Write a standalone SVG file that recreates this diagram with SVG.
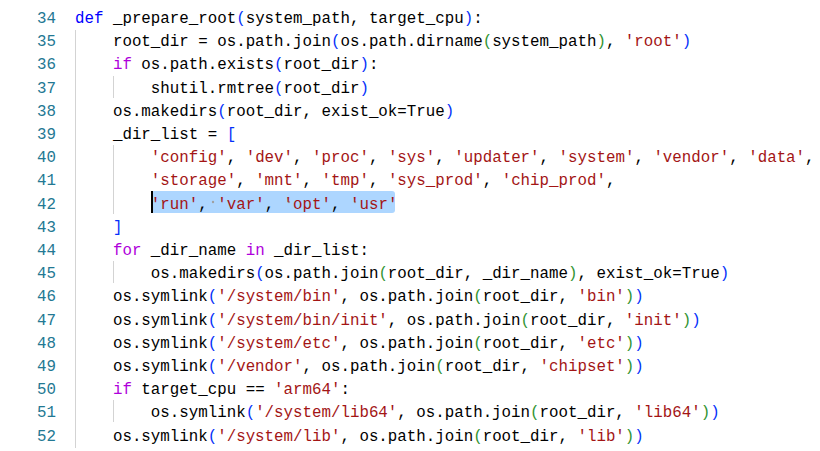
<svg xmlns="http://www.w3.org/2000/svg" width="820" height="451" viewBox="0 0 820 451">
<style>
text{font-family:"Liberation Mono",monospace;font-size:15.8px;fill:#000;white-space:pre}
.ln{fill:#237893;text-anchor:end}
.k{fill:#0000ff}.c{fill:#af00db}.s{fill:#a31515}.b1{fill:#0431fa}.b2{fill:#319331}
.g{stroke:#d3d3d3;stroke-width:1}
</style>
<rect width="820" height="451" fill="#fff"/>
<g id="guides">
<line class="g" x1="75.5" y1="30" x2="75.5" y2="448"/>
<line class="g" x1="113.5" y1="76" x2="113.5" y2="98"/>
<line class="g" x1="113.5" y1="145" x2="113.5" y2="214"/>
<line class="g" x1="113.5" y1="261" x2="113.5" y2="283"/>
<line class="g" x1="113.5" y1="400" x2="113.5" y2="422"/>
</g>
<g id="selection">
<rect x="151" y="191" width="244" height="22" rx="3" fill="#add6ff"/>
<rect x="151" y="191" width="2" height="22" fill="#000"/>
<g fill="#a0a0a0"><circle cx="213" cy="202" r="1.2"/><circle cx="289" cy="202" r="1.2"/><circle cx="355" cy="202" r="1.2"/></g>
</g>
<g id="numbers">
<text class="ln" x="56" y="23">34</text><text class="ln" x="56" y="46.2">35</text><text class="ln" x="56" y="69.4">36</text><text class="ln" x="56" y="92.6">37</text><text class="ln" x="56" y="115.8">38</text><text class="ln" x="56" y="139">39</text><text class="ln" x="56" y="162.2">40</text><text class="ln" x="56" y="185.4">41</text><text class="ln" x="56" y="208.6">42</text><text class="ln" x="56" y="231.8">43</text><text class="ln" x="56" y="255">44</text><text class="ln" x="56" y="278.2">45</text><text class="ln" x="56" y="301.4">46</text><text class="ln" x="56" y="324.6">47</text><text class="ln" x="56" y="347.8">48</text><text class="ln" x="56" y="371">49</text><text class="ln" x="56" y="394.2">50</text><text class="ln" x="56" y="417.4">51</text><text class="ln" x="56" y="440.6">52</text>
</g>
<g id="code">
<text x="75" y="23"><tspan class="k">def</tspan> _prepare_root<tspan class="b1">(</tspan>system_path, target_cpu<tspan class="b1">)</tspan>:</text>
<text x="75" y="46.2">    root_dir = os.path.join<tspan class="b1">(</tspan>os.path.dirname<tspan class="b2">(</tspan>system_path<tspan class="b2">)</tspan>, <tspan class="s">'root'</tspan><tspan class="b1">)</tspan></text>
<text x="75" y="69.4">    <tspan class="c">if</tspan> os.path.exists<tspan class="b1">(</tspan>root_dir<tspan class="b1">)</tspan>:</text>
<text x="75" y="92.6">        shutil.rmtree<tspan class="b1">(</tspan>root_dir<tspan class="b1">)</tspan></text>
<text x="75" y="115.8">    os.makedirs<tspan class="b1">(</tspan>root_dir, exist_ok=True<tspan class="b1">)</tspan></text>
<text x="75" y="139">    _dir_list = <tspan class="b1">[</tspan></text>
<text x="75" y="162.2">        <tspan class="s">'config'</tspan>, <tspan class="s">'dev'</tspan>, <tspan class="s">'proc'</tspan>, <tspan class="s">'sys'</tspan>, <tspan class="s">'updater'</tspan>, <tspan class="s">'system'</tspan>, <tspan class="s">'vendor'</tspan>, <tspan class="s">'data'</tspan>,</text>
<text x="75" y="185.4">        <tspan class="s">'storage'</tspan>, <tspan class="s">'mnt'</tspan>, <tspan class="s">'tmp'</tspan>, <tspan class="s">'sys_prod'</tspan>, <tspan class="s">'chip_prod'</tspan>,</text>
<text x="75" y="208.6">        <tspan class="s">'run'</tspan>, <tspan class="s">'var'</tspan>, <tspan class="s">'opt'</tspan>, <tspan class="s">'usr'</tspan></text>
<text x="75" y="231.8">    <tspan class="b1">]</tspan></text>
<text x="75" y="255">    <tspan class="c">for</tspan> _dir_name <tspan class="c">in</tspan> _dir_list:</text>
<text x="75" y="278.2">        os.makedirs<tspan class="b1">(</tspan>os.path.join<tspan class="b2">(</tspan>root_dir, _dir_name<tspan class="b2">)</tspan>, exist_ok=True<tspan class="b1">)</tspan></text>
<text x="75" y="301.4">    os.symlink<tspan class="b1">(</tspan><tspan class="s">'/system/bin'</tspan>, os.path.join<tspan class="b2">(</tspan>root_dir, <tspan class="s">'bin'</tspan><tspan class="b2">)</tspan><tspan class="b1">)</tspan></text>
<text x="75" y="324.6">    os.symlink<tspan class="b1">(</tspan><tspan class="s">'/system/bin/init'</tspan>, os.path.join<tspan class="b2">(</tspan>root_dir, <tspan class="s">'init'</tspan><tspan class="b2">)</tspan><tspan class="b1">)</tspan></text>
<text x="75" y="347.8">    os.symlink<tspan class="b1">(</tspan><tspan class="s">'/system/etc'</tspan>, os.path.join<tspan class="b2">(</tspan>root_dir, <tspan class="s">'etc'</tspan><tspan class="b2">)</tspan><tspan class="b1">)</tspan></text>
<text x="75" y="371">    os.symlink<tspan class="b1">(</tspan><tspan class="s">'/vendor'</tspan>, os.path.join<tspan class="b2">(</tspan>root_dir, <tspan class="s">'chipset'</tspan><tspan class="b2">)</tspan><tspan class="b1">)</tspan></text>
<text x="75" y="394.2">    <tspan class="c">if</tspan> target_cpu == <tspan class="s">'arm64'</tspan>:</text>
<text x="75" y="417.4">        os.symlink<tspan class="b1">(</tspan><tspan class="s">'/system/lib64'</tspan>, os.path.join<tspan class="b2">(</tspan>root_dir, <tspan class="s">'lib64'</tspan><tspan class="b2">)</tspan><tspan class="b1">)</tspan></text>
<text x="75" y="440.6">    os.symlink<tspan class="b1">(</tspan><tspan class="s">'/system/lib'</tspan>, os.path.join<tspan class="b2">(</tspan>root_dir, <tspan class="s">'lib'</tspan><tspan class="b2">)</tspan><tspan class="b1">)</tspan></text>
</g>
</svg>
